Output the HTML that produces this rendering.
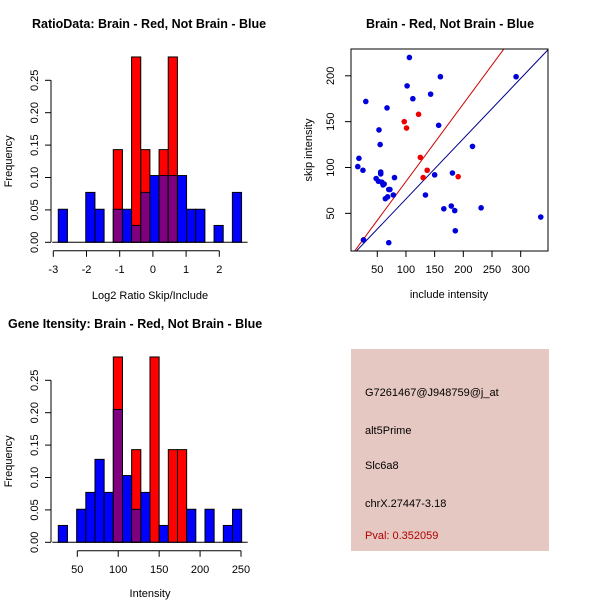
<!DOCTYPE html>
<html><head><meta charset="utf-8"><style>
body{margin:0;background:#fff;}
svg{display:block;font-family:"Liberation Sans",sans-serif;}
</style></head><body>
<svg id="c" width="600" height="600" viewBox="0 0 600 600">
<rect width="600" height="600" fill="#fff"/>
<text x="32" y="28" font-size="12.5" font-weight="bold">RatioData: Brain - Red, Not Brain - Blue</text>
<text x="450" y="28" font-size="12.5" font-weight="bold" text-anchor="middle">Brain - Red, Not Brain - Blue</text>
<text x="8" y="328" font-size="12.5" font-weight="bold">Gene Itensity: Brain - Red, Not Brain - Blue</text>
<rect x="351" y="349" width="198" height="202" fill="#e6c8c2"/>
<g font-size="11">
<text x="365" y="396">G7261467@J948759@j_at</text>
<text x="365" y="434">alt5Prime</text>
<text x="365" y="469">Slc6a8</text>
<text x="365" y="507">chrX.27447-3.18</text>
<text x="365" y="539" fill="#b00000">Pval: 0.352059</text>
</g>
</svg>
<script>
// Ratio histogram data
const ratioBinStart = -2.85;
const ratioBinWidth = 0.276;
const ratioBlue = [0.051,0,0,0.077,0.051,0,0.051,0.051,0.026,0.077,0.103,0.103,0.103,0.103,0.051,0.051,0,0.026,0,0.077];
const ratioRed  = [0,0,0,0,0,0,0.143,0,0.286,0.143,0,0.143,0.286,0,0,0,0,0,0,0];
const ratioXTicks = [-3,-2,-1,0,1,2];
const freqTicks = ["0.00","0.05","0.10","0.15","0.20","0.25"];
// Intensity histogram data
const intBinStart = 26.8;
const intBinWidth = 11.2;
const intBlue = [0.026,0,0.051,0.077,0.128,0.077,0.205,0.103,0.051,0.077,0,0.026,0,0,0.051,0,0.051,0,0.026,0.051];
const intRed  = [0,0,0,0,0,0,0.286,0,0.143,0,0.286,0,0.143,0.143,0,0,0,0,0,0];
const intXTicks = [50,100,150,200,250];
// Scatter data
const blueX = [106,160,292,102,143,112,30,67,157,53,55,216,18,16,25,56,56,48,52,58,62,60,70,72,80,150,181,78,68,64,134,179,166,185,231,186,335,70,26];
const blueY = [220,199,199,189,180,175,172,165,146,141,125,123,110,101,97,95,93,88,85,84,82,81,76,76,89,92,94,70,68,66,70,58,55,53,56,31,46,18,21];
const redX = [97,101,122,125,137,130,191,26];
const redY = [150,143,158,111,97,89,90,21];
const blueSlope = 0.657;
const redSlope = 0.847;
const scatXTicks = [50,100,150,200,250,300];
const scatYTicks = [50,100,150,200];

const NS="http://www.w3.org/2000/svg";
const svg=document.getElementById('c');
function mk(tag,attrs,parent){const e=document.createElementNS(NS,tag);for(const k in attrs)e.setAttribute(k,attrs[k]);(parent||svg).appendChild(e);return e;}

function histogram(prefix,y0px,x0val,x0px,pxPerUnit,binStart,binW,blue,red,xticks,xlabel,xAxisFrom,xAxisTo,titleY){
  const fy=v=>y0px - v*648;
  const fx=v=>x0px + (v-x0val)*pxPerUnit;
  const g=mk('g',{});
  
  
  for(let i=0;i<blue.length;i++){
    const xa=fx(binStart+i*binW), xb=fx(binStart+(i+1)*binW);
    const r=red[i], b=blue[i];
    if(r>0){const e=mk('rect',{x:xa,y:fy(r),width:xb-xa,height:fy(0)-fy(r),fill:'#ff0000',stroke:'#000','stroke-width':1},g);
      
      }
    if(b>0){const e=mk('rect',{x:xa,y:fy(b),width:xb-xa,height:fy(0)-fy(b),fill:r>0?'#7f007f':'#0000ff',stroke:'#000','stroke-width':1},g);
      
      
      if(r>0&&r<b){const o=mk('rect',{x:xa,y:fy(r),width:xb-xa,height:fy(0)-fy(r),fill:'#7f007f',stroke:'#000','stroke-width':1},g);
        
        }}
  }
  mk('line',{x1:fx(binStart)-6,x2:fx(binStart+blue.length*binW)+6,y1:fy(0),y2:fy(0),stroke:'#000'},g);
  mk('line',{x1:51,x2:51,y1:fy(0),y2:fy(0.25),stroke:'#000'},g);
  freqTicks.forEach((t,i)=>{const v=i*0.05;const y=fy(v);
    mk('line',{x1:45,x2:51,y1:y,y2:y,stroke:'#000'},g);
    const tx=mk('text',{x:38,y:y,'font-size':11,'text-anchor':'middle',transform:`rotate(-90 38 ${y})`},g);tx.textContent=t;
    
    });
  const yl=mk('text',{x:12,y:fy(0.125),'font-size':11,'text-anchor':'middle',transform:`rotate(-90 12 ${fy(0.125)})`},g);yl.textContent='Frequency';
  
  
  const ay=y0px+8.5;
  mk('line',{x1:fx(xAxisFrom),x2:fx(xAxisTo),y1:ay,y2:ay,stroke:'#000'},g);
  xticks.forEach(t=>{const x=fx(t);
    mk('line',{x1:x,x2:x,y1:ay,y2:ay+6,stroke:'#000'},g);
    const tx=mk('text',{x:x,y:ay+22,'font-size':11,'text-anchor':'middle'},g);tx.textContent=t;
    
    });
  const xl=mk('text',{x:150,y:titleY,'font-size':11,'text-anchor':'middle'},g);xl.textContent=xlabel;
  
  
}
histogram('ratio',242.3,-3,53.3,33.2,ratioBinStart,ratioBinWidth,ratioBlue,ratioRed,ratioXTicks,'Log2 Ratio Skip/Include',-3,2,299);
histogram('intensity',542.3,50,77.3,0.8185,intBinStart,intBinWidth,intBlue,intRed,intXTicks,'Intensity',50,250,597);

// Scatter
(function(){
  const L=351,R=548,T=49,B=251;
  const sx=v=>348.6+v*0.5736;
  const sy=v=>259.2-v*0.917;
  const g=mk('g',{});
  
  
  const cp=mk('clipPath',{id:'clipS'},g);mk('rect',{x:L,y:T,width:R-L,height:B-T},cp);
  const pts=mk('g',{'clip-path':'url(#clipS)'},g);
  const xmax=(R-348.6)/0.5736;
  const xmin=(L-348.6)/0.5736;
  const rl=mk('line',{x1:sx(xmin),y1:sy(xmin*redSlope),x2:sx(xmax),y2:sy(xmax*redSlope),stroke:'#cc0000','stroke-width':1},pts);
  
  
  const bl=mk('line',{x1:sx(xmin),y1:sy(xmin*blueSlope),x2:sx(xmax),y2:sy(xmax*blueSlope),stroke:'#00008b','stroke-width':1},pts);
  
  
  redX.forEach((x,i)=>{const c=mk('circle',{cx:sx(x),cy:sy(redY[i]),r:2.8,fill:'#ee0000'},pts);
    
    });
  blueX.forEach((x,i)=>{const c=mk('circle',{cx:sx(x),cy:sy(blueY[i]),r:2.8,fill:'#0000dd'},pts);
    
    });
  mk('rect',{x:L,y:T,width:R-L,height:B-T,fill:'none',stroke:'#000'},g);
  scatXTicks.forEach(t=>{const x=sx(t);mk('line',{x1:x,x2:x,y1:B,y2:B+6,stroke:'#000'},g);
    const tx=mk('text',{x:x,y:B+22,'font-size':11,'text-anchor':'middle'},g);tx.textContent=t;
    
    });
  scatYTicks.forEach(t=>{const y=sy(t);mk('line',{x1:L-6,x2:L,y1:y,y2:y,stroke:'#000'},g);
    const tx=mk('text',{x:334,y:y,'font-size':11,'text-anchor':'middle',transform:`rotate(-90 334 ${y})`},g);tx.textContent=t;
    
    });
  const xl=mk('text',{x:449,y:298,'font-size':11,'text-anchor':'middle'},g);xl.textContent='include intensity';
  
  
  const yl=mk('text',{x:312,y:150,'font-size':11,'text-anchor':'middle',transform:'rotate(-90 312 150)'},g);yl.textContent='skip intensity';
  
  
})();
</script>
</body></html>
